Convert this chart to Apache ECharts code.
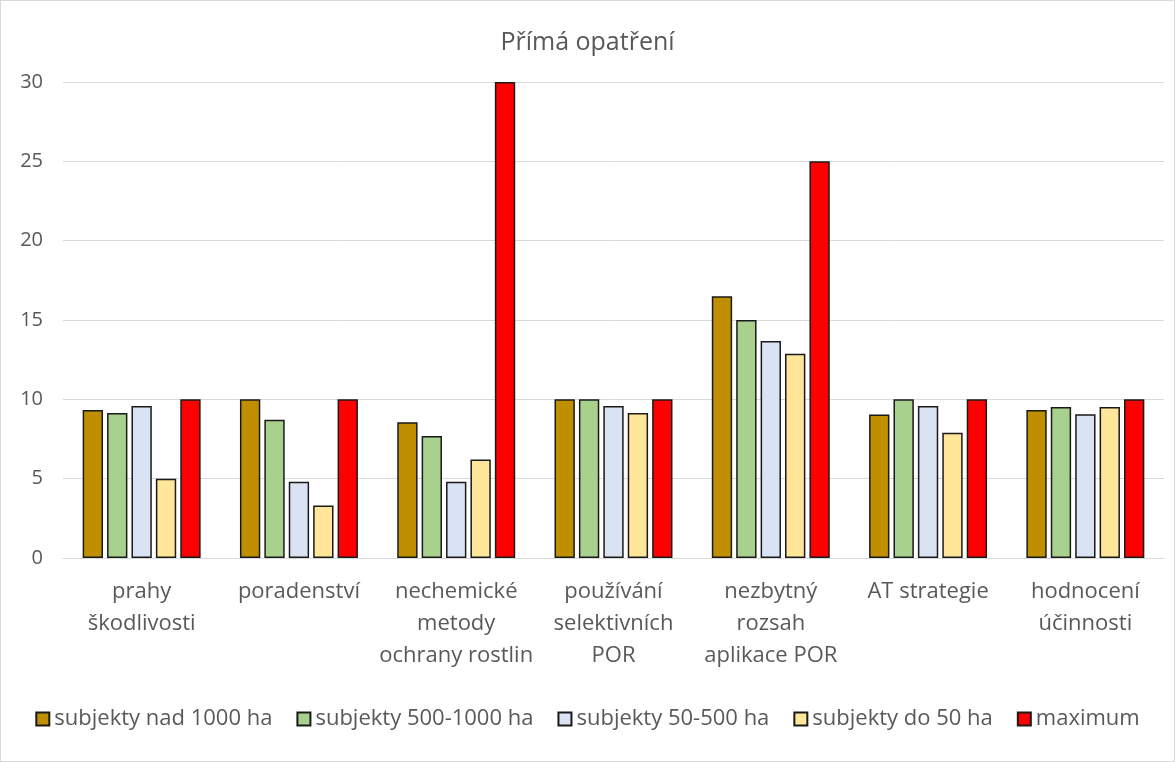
<!DOCTYPE html>
<html>
<head>
<meta charset="utf-8">
<script src="https://cdn.jsdelivr.net/npm/echarts@6/dist/echarts.min.js"></script>
<style>
  html, body { margin: 0; padding: 0; background: #fff; }
  #chart { width: 1175px; height: 762px; box-sizing: border-box; border: 1px solid #d9d9d9; }
</style>
</head>
<body>
<div id="chart"></div>
<script>
// Categories (line breaks as shown under the axis)
const categories = [
  'prahy\nškodlivosti',
  'poradenství',
  'nechemické\nmetody\nochrany rostlin',
  'používání\nselektivních\nPOR',
  'nezbytný\nrozsah\naplikace POR',
  'AT strategie',
  'hodnocení\núčinnosti'
];

const seriesNames = [
  'subjekty nad 1000 ha',
  'subjekty 500-1000 ha',
  'subjekty 50-500 ha',
  'subjekty do 50 ha',
  'maximum'
];

const over1000   = [9.33, 10, 8.56, 10, 16.5, 9.05, 9.33];
const from500    = [9.14, 8.71, 7.69, 10, 15, 10, 9.52];
const from50     = [9.58, 4.81, 4.81, 9.58, 13.67, 9.58, 9.06];
const under50    = [5, 3.31, 6.21, 9.14, 12.88, 7.9, 9.52];
const maximum    = [10, 10, 30, 10, 25, 10, 10];

const yTicks = { min: 0, max: 30, interval: 5 };

const colors = ['#BF8F00', '#A9D18E', '#DAE3F3', '#FFE699', '#FF0000'];
const values = [over1000, from500, from50, under50, maximum];

const font = '"Open Sans", "Noto Sans", sans-serif';

const chart = echarts.init(document.getElementById('chart'), null, { renderer: 'canvas' });

chart.setOption({
  animation: false,
  title: {
    text: 'Přímá opatření',
    left: 'center',
    top: 24,
    textStyle: { fontFamily: font, fontSize: 25, fontWeight: 'normal', color: '#595959' }
  },
  legend: {
    bottom: 26,
    left: 'center',
    itemWidth: 13,
    itemHeight: 13,
    itemGap: 24,
    icon: 'rect',
    textStyle: { fontFamily: font, fontSize: 22, color: '#595959' },
    data: seriesNames
  },
  grid: { left: 62, right: 10, top: 81, bottom: 203, containLabel: false },
  xAxis: {
    type: 'category',
    data: categories,
    axisLine: { lineStyle: { color: '#d9d9d9', width: 1 } },
    axisTick: { show: false },
    axisLabel: {
      fontFamily: font, fontSize: 22, color: '#595959',
      interval: 0, margin: 18, lineHeight: 32
    }
  },
  yAxis: {
    type: 'value',
    min: yTicks.min, max: yTicks.max, interval: yTicks.interval,
    axisLine: { show: false },
    axisTick: { show: false },
    splitLine: { lineStyle: { color: '#d9d9d9', width: 1 } },
    axisLabel: { fontFamily: font, fontSize: 20, color: '#595959', margin: 20 }
  },
  series: seriesNames.map((name, i) => ({
    name: name,
    type: 'bar',
    data: values[i],
    barGap: '20%',
    barCategoryGap: '25%',
    itemStyle: {
      color: colors[i],
      borderColor: '#1a1a1a',
      borderWidth: 1.5
    }
  }))
});
</script>
</body>
</html>
